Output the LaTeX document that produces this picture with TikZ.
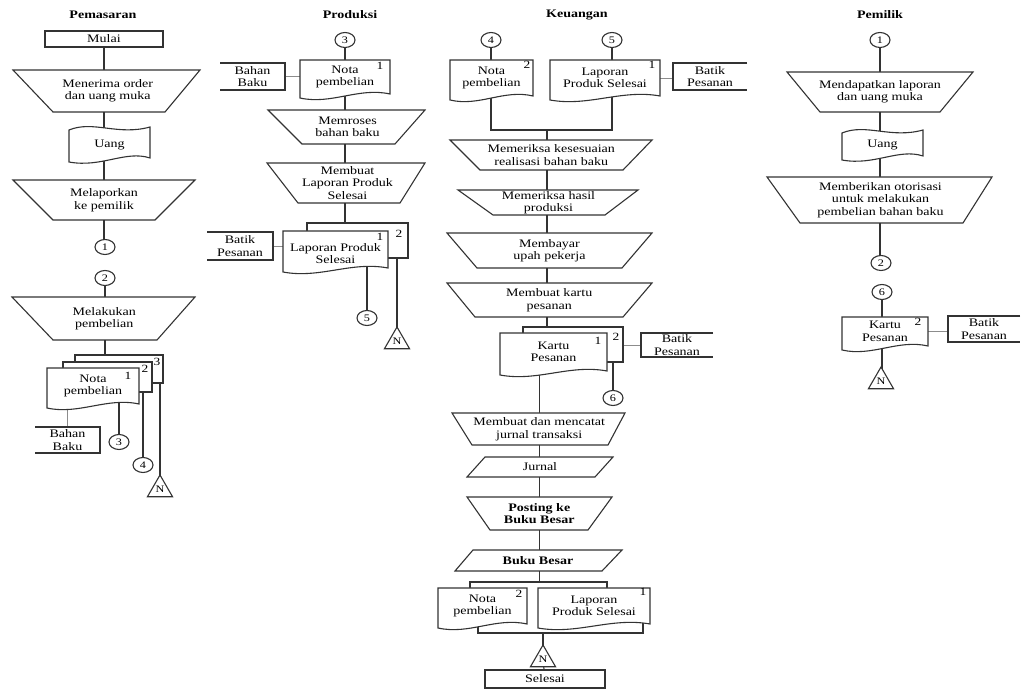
\documentclass[tikz,border=0pt]{standalone}
\usepackage{fontspec}
\setmainfont{Liberation Serif}[FakeStretch=1.22]
\usetikzlibrary{shapes.geometric}
\pgfdeclarelayer{background}
\pgfsetlayers{background,main}

\tikzset{
  outl/.style={draw=black!80, line width=1.1pt, fill=white, line join=miter},
  box/.style={draw=none, inner sep=0pt, align=center, font=\fontsize{11.5}{12.5}\selectfont},
  rbox/.style={box, draw=black!80, line width=1.1pt, fill=white},
  title/.style={inner sep=0pt, font=\fontsize{11.5}{13}\selectfont\bfseries},
  num/.style={inner sep=0pt, font=\fontsize{11}{11}\selectfont},
  conn/.style={ellipse, draw=black!80, line width=1.1pt, fill=white, minimum width=20pt, minimum height=15pt, inner sep=0pt, font=\fontsize{10}{10}\selectfont},
  tri/.style={regular polygon, regular polygon sides=3, draw=black!80, line width=1.1pt, fill=white, minimum size=29pt, inner sep=0pt, font=\fontsize{10}{10}\selectfont},
  ln/.style={draw=black!80, line width=1.1pt},
  thinln/.style={draw=black!45, line width=0.8pt},
}

% trapezoid / parallelogram: name, ytop, ybot, topL, topR, botL, botR, text
\newcommand\trapz[8]{%
  \draw[outl] (#4,#2) -- (#5,#2) -- (#7,#3) -- (#6,#3) -- cycle;
  \node[box, minimum width={(#7-#6)*1pt}, minimum height={(#3-#2)*1pt}] (#1) at ({(#4+#5+#6+#7)/4},{(#2+#3)/2}) {#8};}
% document: [text shift down], name, x1, y1, x2, y2, text
\newcommand\docsh[7][0]{%
  \draw[outl] (#3,#4) -- (#5,#4) -- ({#5},{#6-4}) .. controls ({#5-0.35*(#5-#3)},{#6-11}) and ({#3+0.35*(#5-#3)},{#6+7}) .. (#3,#6) -- cycle;
  \node[box, minimum width={(#5-#3)*1pt}, minimum height={(#6-#4-4)*1pt}] (#2) at ({(#3+#5)/2},{(#4+#6-4)/2+#1}) {#7};}
% back document
\newcommand\bdoc[4]{\draw[outl] (#1,#2) rectangle (#3,#4);}
% punched tape: name, x1, y1, x2, y2, text
\newcommand\tapesh[6]{%
  \draw[outl] (#2,{#3+3}) .. controls ({#2+0.3*(#4-#2)},{#3-7}) and ({#2+0.6*(#4-#2)},{#3+9}) .. (#4,#3) -- ({#4},{#5-4}) .. controls ({#4-0.3*(#4-#2)},{#5-12}) and ({#2+0.4*(#4-#2)},{#5+6}) .. (#2,#5) -- cycle;
  \node[box, minimum width={(#4-#2)*1pt}, minimum height={(#5-#3)*1pt}] (#1) at ({(#2+#4)/2},{(#3+#5)/2}) {#6};}
% storage closed on right / left: name, x1, y1, x2, y2, text
\newcommand\storR[6]{%
  \draw[outl, fill=none] (#2,#3) -- (#4,#3) -- (#4,#5) -- (#2,#5);
  \node[box, minimum width={(#4-#2)*1pt}, minimum height={(#5-#3)*1pt}] (#1) at ({(#2+#4)/2},{(#3+#5)/2}) {#6};}
\newcommand\storL[6]{%
  \draw[outl, fill=none] (#4,#3) -- (#2,#3) -- (#2,#5) -- (#4,#5);
  \node[box, minimum width={(#4-#2)*1pt}, minimum height={(#5-#3)*1pt}] (#1) at ({(#2+#4)/2},{(#3+#5)/2}) {#6};}

\begin{document}
\begin{tikzpicture}[x=1pt, y=-1pt]
\useasboundingbox (0,0) rectangle (1021,692);

% ---------------- Pemasaran ----------------
\node[title] (tPem) at (103,15) {Pemasaran};
\node[rbox, minimum width=118pt, minimum height=16pt] (mMulai) at (104,39) {Mulai};
\trapz{mTerima}{70}{112}{13}{200}{53}{165}{Menerima order\\dan uang muka}
\tapesh{mUang}{69}{127}{150}{162}{Uang}
\trapz{mLapor}{180}{220}{13}{195}{53}{155}{Melaporkan\\ke pemilik}
\node[conn] (mC1) at (105,247) {1};
\node[conn] (mC2) at (105,278) {2};
\trapz{mBeli}{297}{340}{12}{195}{53}{157}{Melakukan\\pembelian}
\bdoc{75}{355}{163}{383}
\bdoc{63}{362}{152}{392}
\docsh{mNota}{47}{368}{139}{408}{Nota\\pembelian}
\node[num] (mL1) at (128,376) {1};
\node[num] (mL2) at (145,369) {2};
\node[num] (mL3) at (157,362) {3};
\storR{mBB}{35}{427}{100}{453}{Bahan\\Baku}
\node[conn] (mC3) at (119,442) {3};
\node[conn] (mC4) at (143,465) {4};
\node[tri] (mN) at (160,489.5) {N};

% ---------------- Produksi ----------------
\node[title] (tPro) at (350,15) {Produksi};
\node[conn] (pC3) at (345,40) {3};
\docsh{pNota}{300}{60}{390}{98}{Nota\\pembelian}
\node[num] (pL1) at (380,66) {1};
\storR{pBB}{220}{63}{285}{90}{Bahan\\Baku}
\trapz{pProses}{110}{144}{268}{425}{302}{395}{Memroses\\bahan baku}
\trapz{pLapor}{163}{203}{267}{425}{298}{400}{Membuat\\Laporan Produk\\Selesai}
\bdoc{307}{223}{408}{258}
\docsh[4]{pLap}{283}{231}{388}{272}{Laporan Produk\\Selesai}
\node[num] (pL2a) at (380,237) {1};
\node[num] (pL2b) at (399,234) {2};
\storR{pBatik}{207}{232}{273}{260}{Batik\\Pesanan}
\node[conn] (pC5) at (367,318) {5};
\node[tri] (pN) at (397,341.5) {N};

% ---------------- Keuangan ----------------
\node[title] (tKeu) at (577,15) {Keuangan};
\node[conn] (kC4) at (491,40) {4};
\node[conn] (kC5) at (612,40) {5};
\docsh{kNota}{450}{60}{533}{100}{Nota\\pembelian}
\node[num] (kL1) at (527,65) {2};
\docsh{kLap}{550}{60}{660}{100}{Laporan\\Produk Selesai}
\node[num] (kL2) at (652,65) {1};
\storL{kBatik1}{673}{63}{747}{90}{Batik\\Pesanan}
\coordinate (kJ) at (547,130);
\trapz{kSesuai}{140}{170}{450}{652}{480}{623}{Memeriksa kesesuaian\\realisasi bahan baku}
\trapz{kHasil}{190}{215}{458}{638}{493}{605}{Memeriksa hasil\\produksi}
\trapz{kUpah}{233}{268}{447}{652}{477}{622}{Membayar\\upah pekerja}
\trapz{kKartuP}{283}{317}{447}{652}{475}{623}{Membuat kartu\\pesanan}
\bdoc{523}{327}{623}{362}
\docsh{kKartu}{500}{333}{607}{375}{Kartu\\Pesanan}
\node[num] (kL3) at (598,341) {1};
\node[num] (kL4) at (616,337) {2};
\storL{kBatik2}{641}{333}{713}{357}{Batik\\Pesanan}
\node[conn] (kC6) at (613,398) {6};
\trapz{kJurT}{413}{445}{452}{625}{472}{608}{Membuat dan mencatat\\jurnal transaksi}
\trapz{kJur}{457}{477}{485}{613}{467}{595}{Jurnal}
\trapz{kPost}{497}{530}{467}{612}{490}{588}{\bfseries Posting ke\\\bfseries Buku Besar}
\trapz{kBB}{550}{571}{473}{622}{455}{602}{\bfseries Buku Besar}
\coordinate (kSL) at (470,582);
\coordinate (kSR) at (607,582);
\docsh{kNota2}{438}{588}{527}{628}{Nota\\pembelian}
\node[num] (kL5) at (519,594) {2};
\docsh{kLap2}{538}{588}{650}{628}{Laporan\\Produk Selesai}
\node[num] (kL6) at (643,592) {1};
\coordinate (kML) at (478,633);
\coordinate (kMR) at (643,633);
\coordinate (kM) at (543,633);
\node[tri] (kN) at (543,659.5) {N};
\node[rbox, minimum width=120pt, minimum height=18pt] (kSel) at (545,679) {Selesai};

% ---------------- Pemilik ----------------
\node[title] (tPml) at (880,15) {Pemilik};
\node[conn] (oC1) at (880,40) {1};
\trapz{oDapat}{72}{112}{787}{973}{820}{940}{Mendapatkan laporan\\dan uang muka}
\tapesh{oUang}{842}{130}{923}{160}{Uang}
\trapz{oOtor}{177}{223}{767}{992}{800}{963}{Memberikan otorisasi\\untuk melakukan\\pembelian bahan baku}
\node[conn] (oC2) at (881,263) {2};
\node[conn] (oC6) at (882,292) {6};
\docsh{oKartu}{842}{317}{928}{350}{Kartu\\Pesanan}
\node[num] (oL1) at (918,322) {2};
\storL{oBatik}{948}{316}{1020}{342}{Batik\\Pesanan}
\node[tri] (oN) at (881,381.5) {N};

% ---------------- connectors ----------------
\begin{pgfonlayer}{background}
\fill[white] (0,0) rectangle (1021,692);
% Pemasaran
\draw[ln] (mMulai.center) -- (mMulai.center |- mC1.center);
\draw[ln] (mC2.center) -- (mC2.center |- mNota.center);
\draw[ln] (mC3.center) -- (mC3.center |- mNota.center);
\draw[ln] (mC4.center) -- (mC4.center |- mNota.center);
\draw[ln] (mN.center) -- (mN.center |- mNota.north);
\draw[thinln] (mBB.north) -- (mBB.north |- mNota.center);
% Produksi
\draw[ln] (pC3.center) -- (pC3.center |- pLap.center);
\draw[thinln] (pBB.east) -- (pBB.east -| pNota.west);
\draw[thinln] (pBatik.east) -- (pBatik.east -| pLap.west);
\draw[ln] (pC5.center) -- (pC5.center |- pLap.center);
\draw[ln] (pN.center) -- (pN.center |- pLap.north);
% Keuangan
\draw[ln] (kC4.center) -- (kC4.center |- kJ) -| (kC5.center);
\draw[ln] (kJ) -- (kJ |- kKartu.center);
\draw[thinln] (kLap.east) -- (kLap.east -| kBatik1.west);
\draw[thinln] (kBatik2.west) -- (kBatik2.west -| kKartu.east);
\draw[ln] (kC6.center) -- (kC6.center |- kKartu.center);
\draw[ln] (kJurT.center |- kKartu.center) -- (kJurT.center |- kSL);
\draw[ln] (kSL |- kNota2.center) -- (kSL) -- (kSR) -- (kSR |- kLap2.center);
\draw[ln] (kML |- kNota2.center) -- (kML) -- (kMR) -- (kMR |- kLap2.center);
\draw[ln] (kM) -- (kN.center);
\draw[ln] (kN.center) -- (kSel.center);
% Pemilik
\draw[ln] (oC1.center) -- (oC1.center |- oC2.center);
\draw[ln] (oC6.center) -- (oC6.center |- oN.center);
\draw[thinln] (oKartu.east) -- (oKartu.east -| oBatik.west);
\end{pgfonlayer}
\end{tikzpicture}
\end{document}
